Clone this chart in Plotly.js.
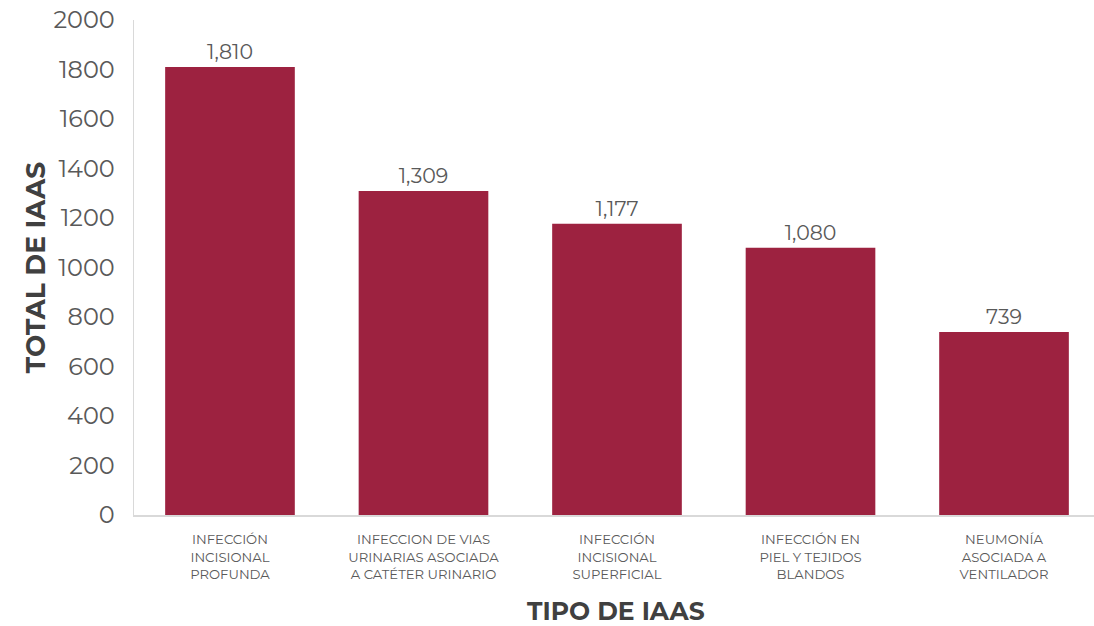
<!DOCTYPE html>
<html><head><meta charset="utf-8">
<script src="https://cdn.plot.ly/plotly-3.0.1.min.js"></script>
<style>html,body{margin:0;padding:0;background:#fff}#c{width:1094px;height:626px}</style>
</head><body><div id="c"></div>
<script>
var categories = ["INFECCIÓN<br>INCISIONAL<br>PROFUNDA","INFECCION DE VIAS<br>URINARIAS ASOCIADA<br>A CATÉTER URINARIO","INFECCIÓN<br>INCISIONAL<br>SUPERFICIAL","INFECCIÓN EN<br>PIEL Y TEJIDOS<br>BLANDOS","NEUMONÍA<br>ASOCIADA A<br>VENTILADOR"];
var values = [1810, 1309, 1177, 1080, 739];
var yTicks = [0,200,400,600,800,1000,1200,1400,1600,1800,2000];
var xTitle = "TIPO DE IAAS";
var yTitle = "TOTAL DE IAAS";
var idx = categories.map(function(_, i){return i;});
var font = "Montserrat, 'DejaVu Sans', sans-serif";
Plotly.newPlot('c', [{
  type:'bar', x: idx, y: values,
  marker:{color:'#9D2240'},
  text: values.map(function(v){return v.toLocaleString('en-US');}),
  textposition:'outside', cliponaxis:false,
  textfont:{family:font, size:20.5, color:'#595959'},
  width:0.67, hoverinfo:'skip'
}], {
  width:1094, height:626,
  margin:{l:134, r:0, t:20, b:111},
  paper_bgcolor:'#fff', plot_bgcolor:'#fff',
  showlegend:false,
  font:{family:font, color:'#595959'},
  xaxis:{
    tickvals: idx, ticktext: categories, range:[-0.496, 4.465],
    showline:true, linecolor:'#d9d9d9', linewidth:1.5, ticks:'', showgrid:false, zeroline:false,
    tickfont:{family:font, size:13.2, color:'#595959'}, ticklabelstandoff:12
  },
  yaxis:{
    range:[0,2000], tickvals: yTicks, showline:true, linecolor:'#d9d9d9', linewidth:1.5,
    showgrid:false, zeroline:false, ticks:'', ticklabelstandoff:13,
    tickfont:{family:font, size:24, color:'#595959'},
    title:{text:'<b>'+yTitle+'</b>', font:{family:font, size:26.5, color:'#404040'}, standoff:0}
  },
  annotations:[{
    text:'<b>'+xTitle+'</b>', xref:'paper', yref:'paper', x:0.502, y:-0.194,
    xanchor:'center', yanchor:'middle', showarrow:false,
    font:{family:font, size:25, color:'#404040'}
  }]
}, {displayModeBar:false, staticPlot:true});
</script></body></html>
